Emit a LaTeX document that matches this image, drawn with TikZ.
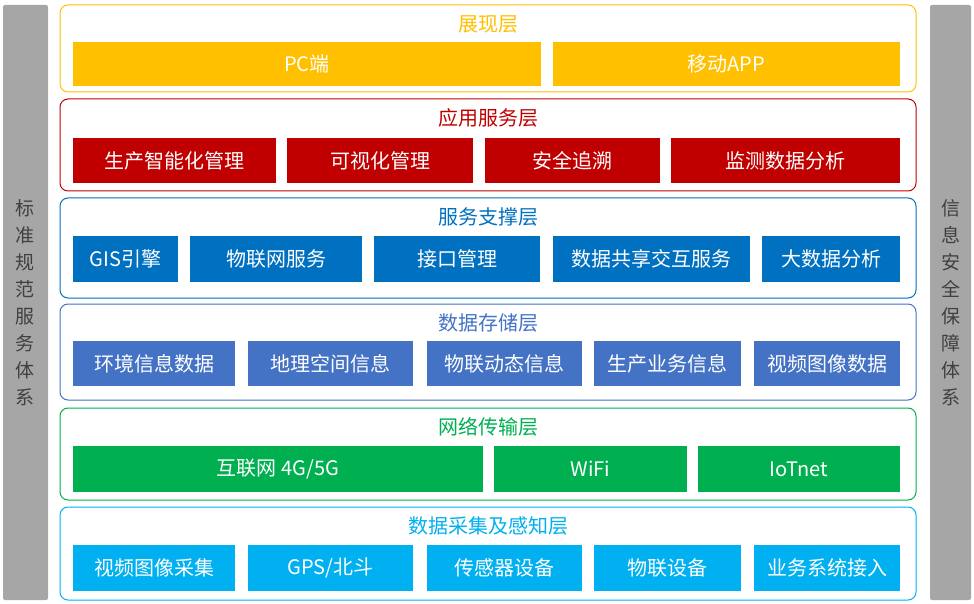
\documentclass[tikz,border=0pt]{standalone}
\usepackage{fontspec}
\setmainfont{Noto Sans CJK SC}
\definecolor{cy}{HTML}{FFC000}
\definecolor{cr}{HTML}{C00000}
\definecolor{cb}{HTML}{0070C0}
\definecolor{cs}{HTML}{4472C4}
\definecolor{cg}{HTML}{00B050}
\definecolor{cc}{HTML}{00B0F0}
\definecolor{sidegray}{HTML}{A6A6A6}
\newcommand\bx[7]{\node[box,fill=#7,minimum width={#4-#2},minimum height={#5-#3}] (#1) at ({(#2+#4)/2},{(#3+#5)/2}) {#6};}
\newcommand\layer[7]{\node[layerbox,draw=#7,minimum width={#4-#2},minimum height={#5-#3}] (#1) at ({(#2+#4)/2},{(#3+#5)/2}) {};
\node[ttl,text=#7] (#1t) at ({(#2+#4)/2},#3+19) {#6};}
\begin{document}
\begin{tikzpicture}[x=1pt,y=-1pt,
 box/.style={inner sep=0,text=white,font=\fontsize{20}{22}\selectfont},
 layerbox/.style={rounded corners=8pt,line width=1pt,fill=white},
 ttl/.style={inner sep=0,font=\fontsize{20}{22}\selectfont},
 side/.style={fill=sidegray,rounded corners=2pt,inner sep=0,align=center,text=black!75,font=\fontsize{19}{27}\selectfont}]
\useasboundingbox (0,0) rectangle (974,604);
\node[side,minimum width=45,minimum height=595] (L) at (25.5,302.5) {标\\准\\规\\范\\服\\务\\体\\系};
\node[side,minimum width=41,minimum height=595] (R) at (950.5,302.5) {信\\息\\安\\全\\保\\障\\体\\系};
\layer{l1}{60}{5}{916}{92}{展现层}{cy}
\bx{a1}{73}{42}{541}{86}{PC端}{cy}
\bx{a2}{553}{42}{900}{86}{移动APP}{cy}
\layer{l2}{60}{99}{916}{191}{应用服务层}{cr}
\bx{b1}{73}{138}{276}{183}{生产智能化管理}{cr}
\bx{b2}{287}{138}{473}{183}{可视化管理}{cr}
\bx{b3}{485}{138}{660}{183}{安全追溯}{cr}
\bx{b4}{671}{138}{900}{183}{监测数据分析}{cr}
\layer{l3}{60}{198}{916}{298}{服务支撑层}{cb}
\bx{c1}{73}{236}{178}{282}{GIS引擎}{cb}
\bx{c2}{190}{236}{362}{282}{物联网服务}{cb}
\bx{c3}{374}{236}{540}{282}{接口管理}{cb}
\bx{c4}{553}{236}{750}{282}{数据共享交互服务}{cb}
\bx{c5}{762}{236}{900}{282}{大数据分析}{cb}
\layer{l4}{60}{304}{916}{400}{数据存储层}{cs}
\bx{d1}{73}{341}{235}{386}{环境信息数据}{cs}
\bx{d2}{248}{341}{413}{386}{地理空间信息}{cs}
\bx{d3}{427}{341}{582}{386}{物联动态信息}{cs}
\bx{d4}{594}{341}{741}{386}{生产业务信息}{cs}
\bx{d5}{754}{341}{900}{386}{视频图像数据}{cs}
\layer{l5}{60}{408}{916}{500}{网络传输层}{cg}
\bx{e1}{73}{446}{483}{492}{互联网 4G/5G}{cg}
\bx{e2}{494}{446}{687}{492}{WiFi}{cg}
\bx{e3}{698}{446}{900}{492}{IoTnet}{cg}
\layer{l6}{60}{507}{916}{600}{数据采集及感知层}{cc}
\bx{f1}{73}{545}{235}{591}{视频图像采集}{cc}
\bx{f2}{248}{545}{413}{591}{GPS/北斗}{cc}
\bx{f3}{427}{545}{582}{591}{传感器设备}{cc}
\bx{f4}{594}{545}{741}{591}{物联设备}{cc}
\bx{f5}{754}{545}{900}{591}{业务系统接入}{cc}
\end{tikzpicture}
\end{document}
